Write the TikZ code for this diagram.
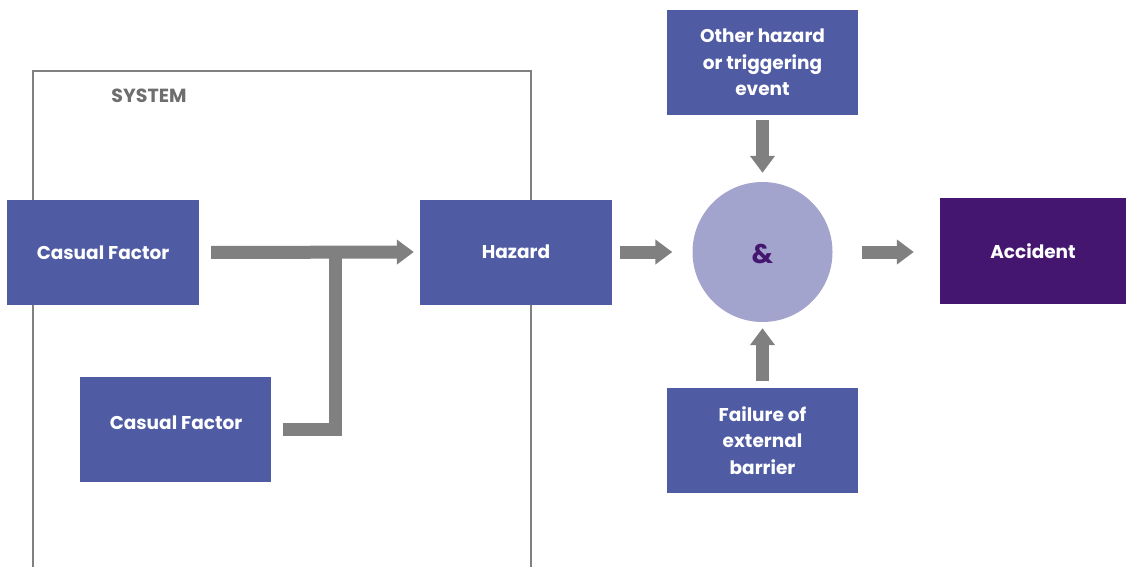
\documentclass[tikz,border=0pt]{standalone}
\usepackage{fontspec}
\setmainfont{Poppins}
\usetikzlibrary{arrows.meta}
\definecolor{boxblue}{HTML}{4F5BA3}
\definecolor{gatefill}{HTML}{A3A4CD}
\definecolor{accpurple}{HTML}{44166F}
\definecolor{flowgray}{HTML}{808080}
\definecolor{sysgray}{HTML}{6E6E6E}
\begin{document}
\begin{tikzpicture}[x=1pt,y=-1pt,
  blocktext/.style={text=white, font=\fontsize{18.5}{26.5}\selectfont\bfseries, align=center, inner sep=0pt},
  blockbox/.style={blocktext, fill=boxblue, draw=none, minimum width=192pt, minimum height=105pt},
  shaft/.style={draw=flowgray, line width=13pt},
  flow/.style={shaft, -{Triangle[width=24pt,length=17pt]}}]
  \useasboundingbox (0,0) rectangle (1126,567);

  % system boundary, open at the bottom
  \draw[flowgray, line width=2pt] (33,567) -- (33,71) -- (531,71) -- (531,567);
  \node[font=\fontsize{19}{22}\selectfont\bfseries, text=sysgray] (systitle) at (149,96) {SYSTEM};

  % blocks
  \node[blockbox] (cf1) at (103,252.5) {Casual Factor};
  \node[blockbox, minimum width=191pt] (cf2) at (175.5,429.5) {};
  \node[blocktext] (cf2text) at (176,423) {Casual Factor};
  \node[blockbox] (haz) at (516,252) {Hazard};
  \node[blockbox, minimum width=191pt] (other) at (762.5,62.5) {Other hazard\\or triggering\\event};
  \node[blockbox, minimum width=191pt] (fail) at (762.5,440.5) {Failure of\\external\\barrier};
  \node[blockbox, fill=accpurple, minimum width=186pt, minimum height=106pt] (acc) at (1033,251) {Accident};
  \node[circle, fill=gatefill, minimum size=140pt, inner sep=0pt,
    font=\fontsize{27}{30}\selectfont\bfseries, text=accpurple] (gate) at (762.5,252) {};
  \node[font=\fontsize{27}{30}\selectfont\bfseries, text=accpurple] (amp) at (762.5,254) {\&};

  % connectors
  \coordinate (merge) at (335,253);
  \draw[flow, shorten <=12pt, shorten >=6pt] (cf1.east) -- (haz.west);
  \draw[shaft] ([xshift=12pt]cf2.east) -| (merge);
  \draw[flow, shorten <=8pt, shorten >=20pt] (haz.east) -- (gate.west);
  \draw[flow, shorten <=29pt, shorten >=26pt] (gate.east) -- (gate.east -| acc.west);
  \draw[flow, shorten <=5pt, shorten >=9pt] (other.south) -- (gate.north);
  \draw[flow, shorten <=7pt, shorten >=6pt] (fail.north) -- (gate.south);
\end{tikzpicture}
\end{document}
